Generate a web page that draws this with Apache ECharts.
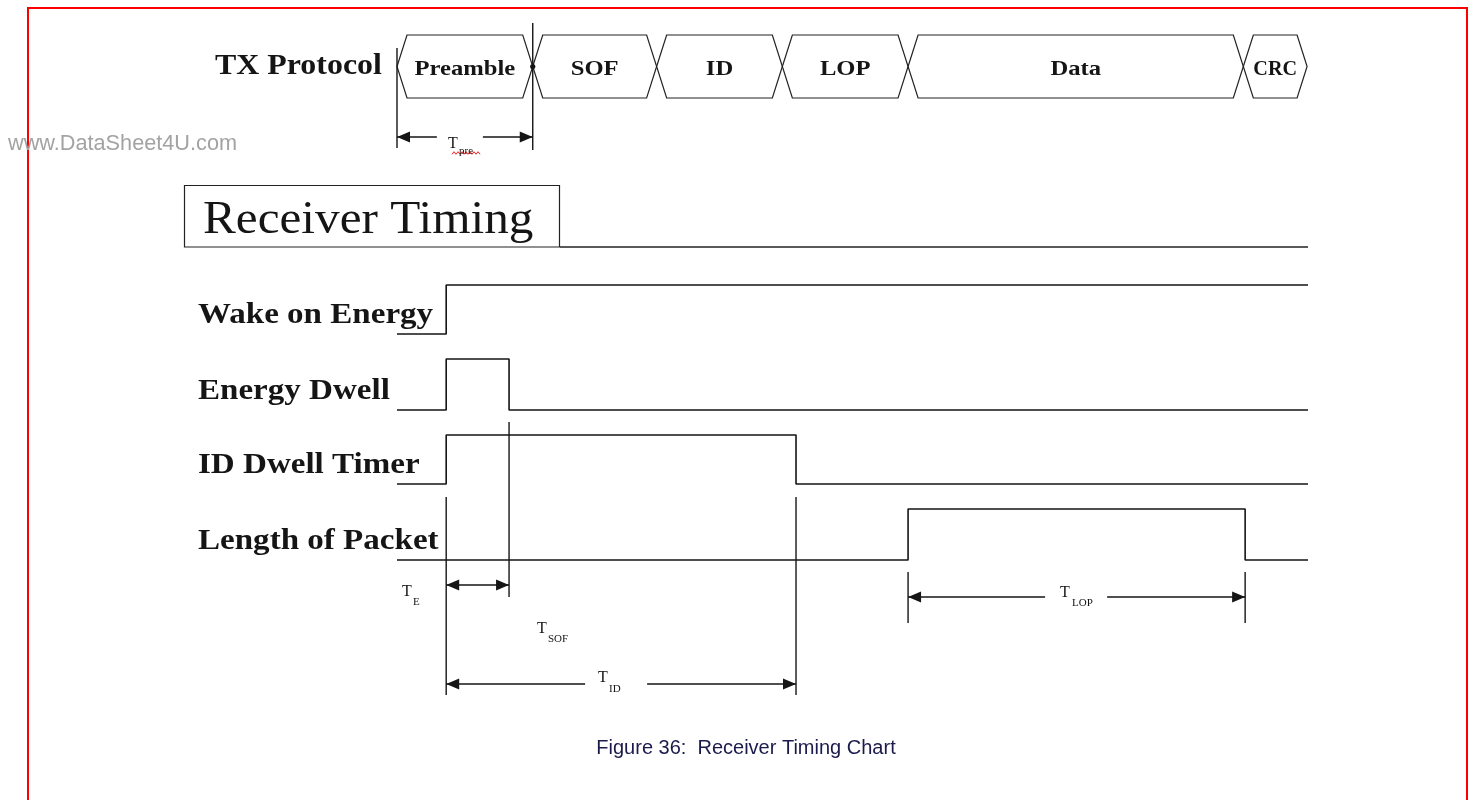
<!DOCTYPE html>
<html>
<head>
<meta charset="utf-8">
<script src="https://cdn.jsdelivr.net/npm/echarts@6/dist/echarts.min.js"></script>
<style>html,body{margin:0;padding:0;background:#fff;}#chart{width:1471px;height:800px;}</style>
</head>
<body>
<div id="chart"></div>
<script>
// ---------------- data (time in arbitrary units, 0..100) ----------------
const timeRange = [0, 100];
const protocolFields = ['Preamble', 'SOF', 'ID', 'LOP', 'Data', 'CRC'];
const protocolBounds = [0, 14.9, 28.5, 42.3, 56.1, 92.9, 99.9];
const signalNames = ['Wake on Energy', 'Energy Dwell', 'ID Dwell Timer', 'Length of Packet'];
const wakeOnEnergy = [[0, 0], [5.4, 1], [100, 1]];
const energyDwell = [[0, 0], [5.4, 1], [12.3, 0], [100, 0]];
const idDwellTimer = [[0, 0], [5.4, 1], [43.8, 0], [100, 0]];
const lengthOfPacket = [[0, 0], [56.1, 1], [93.1, 0], [100, 0]];
const timingSubscripts = ['pre', 'E', 'SOF', 'ID', 'LOP'];
const titleText = 'TX Protocol';
const sectionText = 'Receiver Timing';
const captionText = 'Figure 36:  Receiver Timing Chart';
const watermarkText = 'www.DataSheet4U.com';

// ---------------- layout / style ----------------
const PLOT_L = 397, PLOT_R = 1471 - 1308;
const rowLayout = [{ top: 285, h: 49 }, { top: 359, h: 51 }, { top: 435, h: 49 }, { top: 509, h: 51 }];
const SERIF = '"Liberation Serif","Times New Roman",serif';
const SANS = '"Liberation Sans",Arial,sans-serif';
const INK = '#151515';
const mctx = document.createElement('canvas').getContext('2d');
function textW(t, font) { mctx.font = font; return mctx.measureText(t).width; }

const signals = [wakeOnEnergy, energyDwell, idDwellTimer, lengthOfPacket];

// dimension arrows (times taken from data arrays), y/gap are layout
const dims = [
  { from: protocolBounds[0], to: protocolBounds[1], y: 137, gap: [-28, 18] },
  { from: energyDwell[1][0], to: energyDwell[2][0], y: 585, gap: null },
  { from: idDwellTimer[1][0], to: idDwellTimer[2][0], y: 684, gap: [-36, 26] },
  { from: lengthOfPacket[1][0], to: lengthOfPacket[2][0], y: 597, gap: [-31.5, 30.5] }
];
// extension (reference) lines
const extLines = [
  { t: protocolBounds[0], y1: 48, y2: 148 },
  { t: protocolBounds[1], y1: 23, y2: 150, dot: 66.5 },
  { t: energyDwell[1][0], y1: 497, y2: 695 },
  { t: energyDwell[2][0], y1: 422, y2: 597 },
  { t: idDwellTimer[2][0], y1: 497, y2: 695 },
  { t: lengthOfPacket[1][0], y1: 572, y2: 623 },
  { t: lengthOfPacket[2][0], y1: 572, y2: 623 }
];

const chart = echarts.init(document.getElementById('chart'), null, { renderer: 'canvas' });

const grids = [
  { left: PLOT_L, right: PLOT_R, top: 0, bottom: 0 },          // overlay
  { left: PLOT_L, right: PLOT_R, top: 35, height: 63 }           // protocol
].concat(rowLayout.map(r => ({ left: PLOT_L, right: PLOT_R, top: r.top, height: r.h })));
grids.forEach(g => { g.outerBoundsMode = 'none'; g.containLabel = false; });

const xAxes = grids.map((g, i) => ({ type: 'value', gridIndex: i, min: timeRange[0], max: timeRange[1], show: false }));
const yAxes = [
  { type: 'value', gridIndex: 0, min: 0, max: 800, inverse: true, show: false },
  { type: 'value', gridIndex: 1, min: -1, max: 1, show: false }
].concat(rowLayout.map((r, i) => ({ type: 'value', gridIndex: i + 2, min: 0, max: 1, show: false })));

const series = [];

// protocol hexagons
series.push({
  type: 'custom', xAxisIndex: 1, yAxisIndex: 1, silent: true, clip: false,
  data: protocolFields.map((n, i) => [protocolBounds[i], protocolBounds[i + 1]]),
  renderItem(params, api) {
    const a = api.value(0), b = api.value(1);
    const pL = api.coord([a, 0]), pR = api.coord([b, 0]);
    const top = api.coord([a, 1])[1], bot = api.coord([a, -1])[1];
    const s = 10;
    const pts = [[pL[0], pL[1]], [pL[0] + s, top], [pR[0] - s, top], [pR[0], pR[1]], [pR[0] - s, bot], [pL[0] + s, bot]];
    const name = protocolFields[params.dataIndex];
    const font = 'bold 22px ' + SERIF;
    const sx = Math.min(1.12, (pR[0] - pL[0] - 20) / textW(name, font));
    return {
      type: 'group', children: [
        { type: 'polygon', shape: { points: pts }, style: { fill: 'none', stroke: '#222', lineWidth: 1.2 } },
        { type: 'text', x: (pL[0] + pR[0]) / 2, y: pL[1] + 2.5, scaleX: sx,
          style: { text: name, font: font, fill: INK, align: 'center', verticalAlign: 'middle', textAlign: 'center', textVerticalAlign: 'middle' } }
      ]
    };
  }
});

// signal waveforms
signals.forEach((d, i) => {
  series.push({
    type: 'line', name: signalNames[i], xAxisIndex: i + 2, yAxisIndex: i + 2,
    data: d, step: 'end', symbol: 'none', clip: false, silent: true,
    lineStyle: { color: INK, width: 1.6 }
  });
});

// extension lines
series.push({
  type: 'custom', xAxisIndex: 0, yAxisIndex: 0, silent: true, clip: false,
  data: extLines.map(e => [e.t, e.y1, e.y2]),
  renderItem(params, api) {
    const e = extLines[params.dataIndex];
    const p1 = api.coord([api.value(0), api.value(1)]);
    const p2 = api.coord([api.value(0), api.value(2)]);
    const ch = [{ type: 'line', shape: { x1: p1[0], y1: p1[1], x2: p2[0], y2: p2[1] }, style: { stroke: INK, lineWidth: 1.4 } }];
    if (e.dot != null) {
      const pd = api.coord([api.value(0), e.dot]);
      ch.push({ type: 'circle', shape: { cx: pd[0], cy: pd[1], r: 2.6 }, style: { fill: INK } });
    }
    return { type: 'group', children: ch };
  }
});

// dimension arrows
series.push({
  type: 'custom', xAxisIndex: 0, yAxisIndex: 0, silent: true, clip: false,
  data: dims.map(d => [d.from, d.to, d.y]),
  renderItem(params, api) {
    const d = dims[params.dataIndex];
    const a = api.coord([api.value(0), api.value(2)]);
    const b = api.coord([api.value(1), api.value(2)]);
    const y = a[1], L = 13, h = 5.5;
    const st = { stroke: INK, lineWidth: 1.4 };
    const ch = [];
    if (d.gap) {
      const m = (a[0] + b[0]) / 2;
      ch.push({ type: 'line', shape: { x1: a[0], y1: y, x2: m + d.gap[0], y2: y }, style: st });
      ch.push({ type: 'line', shape: { x1: m + d.gap[1], y1: y, x2: b[0], y2: y }, style: st });
    } else {
      ch.push({ type: 'line', shape: { x1: a[0], y1: y, x2: b[0], y2: y }, style: st });
    }
    ch.push({ type: 'polygon', shape: { points: [[a[0], y], [a[0] + L, y - h], [a[0] + L, y + h]] }, style: { fill: INK } });
    ch.push({ type: 'polygon', shape: { points: [[b[0], y], [b[0] - L, y - h], [b[0] - L, y + h]] }, style: { fill: INK } });
    return { type: 'group', children: ch };
  }
});

// ---------------- graphic texts & frames ----------------
function txt(text, x, baseline, font, size, opt) {
  opt = opt || {};
  const align = opt.align || 'left';
  return {
    type: 'text', x: x, y: baseline - (opt.k || 0.34) * size, scaleX: opt.sx || 1, silent: true, z: 10,
    style: { text: text, font: font, fill: opt.fill || INK, align: align, verticalAlign: 'middle', textAlign: align, textVerticalAlign: 'middle' }
  };
}
const elements = [];
elements.push({ type: 'rect', silent: true, shape: { x: 28, y: 8, width: 1439, height: 830 }, style: { fill: 'none', stroke: '#ff0000', lineWidth: 2 } });
elements.push(txt(watermarkText, 8, 152, '21.7px ' + SANS, 21.7, { fill: '#a3a3a3', k: 0.35 }));
elements.push(txt(titleText, 215, 73, 'bold 29px ' + SERIF, 29, { sx: 1.1, k: 0.22 }));
elements.push({ type: 'rect', silent: true, shape: { x: 184.5, y: 185.5, width: 375, height: 61.5 }, style: { fill: 'none', stroke: '#222', lineWidth: 1.2 } });
elements.push({ type: 'line', silent: true, shape: { x1: 560, y1: 247, x2: 1308, y2: 247 }, style: { stroke: '#222', lineWidth: 1.4 } });
elements.push(txt(sectionText, 203, 233, '46px ' + SERIF, 46, { sx: 1.07, k: 0.26 }));
signalNames.forEach((n, i) => {
  const r = rowLayout[i];
  elements.push(txt(n, 198, r.top + r.h - 11.5, 'bold 29px ' + SERIF, 29, { sx: 1.14, k: 0.23 }));
});
// timing labels: T + subscript
const tLabels = [
  { x: 448, b: 149, sx: 459, sb: 154 },
  { x: 402, b: 597, sx: 413, sb: 605 },
  { x: 537, b: 634, sx: 548, sb: 642 },
  { x: 598, b: 683, sx: 609, sb: 692 },
  { x: 1060, b: 598, sx: 1072, sb: 606 }
];
tLabels.forEach((p, i) => {
  elements.push(txt('T', p.x, p.b, '16px ' + SERIF, 16, { k: 0.3 }));
  elements.push(txt(timingSubscripts[i], p.sx, p.sb, '11px ' + SERIF, 11, { k: 0.3 }));
});
// spell-check squiggle under "pre"
const sq = [];
for (let k = 0; k <= 14; k++) sq.push([452 + k * 2, 153 + (k % 2 ? -1.3 : 1.3)]);
elements.push({ type: 'polyline', silent: true, shape: { points: sq }, style: { stroke: '#ff2020', lineWidth: 1, fill: 'none' } });
elements.push(txt(captionText, 746, 755, '20px ' + SANS, 20, { align: 'center', fill: '#1a1a4d', k: 0.35 }));

chart.setOption({
  animation: false,
  backgroundColor: '#ffffff',
  grid: grids,
  xAxis: xAxes,
  yAxis: yAxes,
  series: series,
  graphic: { elements: elements }
});
</script>
</body>
</html>
